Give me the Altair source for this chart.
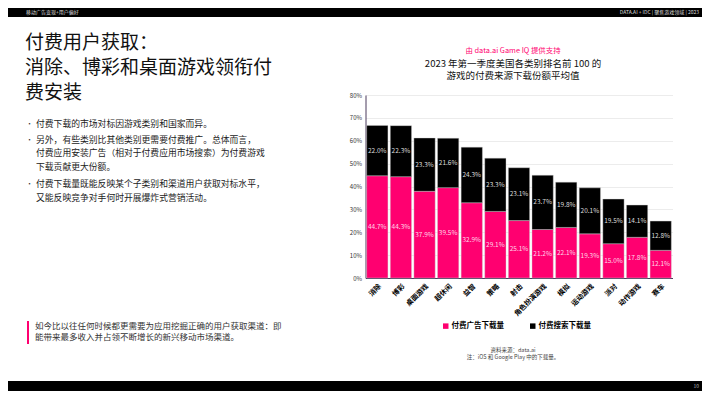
import altair as alt
import pandas as pd

categories = ["消除", "博彩", "桌面游戏", "超休闲", "益智", "策略", "射击",
              "角色扮演游戏", "模拟", "运动游戏", "派对", "动作游戏", "赛车"]
paid_ads = [44.7, 44.3, 37.9, 39.5, 32.9, 29.1, 25.1, 21.2, 22.1, 19.3, 15.0, 17.8, 12.1]
paid_search = [22.0, 22.3, 23.3, 21.6, 24.3, 23.3, 23.1, 23.7, 19.8, 20.1, 19.5, 14.1, 12.8]
series_names = ["付费广告下载量", "付费搜索下载量"]
y_ticks = [0, 10, 20, 30, 40, 50, 60, 70, 80]

PINK = "#FF0070"
BLACK = "#000000"
FONT = "Noto Sans CJK SC"

# view origin in page coordinates
OX, OY = 365.5, 95.0
def X(px):
    return px - OX
def Y(py):
    return py - OY

rows = []
for i, c in enumerate(categories):
    p, s = paid_ads[i], paid_search[i]
    rows.append({"cat": c, "series": series_names[0], "value": p, "ord": 0,
                 "mid": p / 2, "label": f"{p:.1f}%"})
    rows.append({"cat": c, "series": series_names[1], "value": s, "ord": 1,
                 "mid": p + s / 2, "label": f"{s:.1f}%"})
df = pd.DataFrame(rows)

x_axis = alt.Axis(labelAngle=-45, labelFont=FONT, labelFontSize=7,
                  labelFontWeight="bold", labelColor="#000000",
                  ticks=False, domainColor="#4b3b5c", domainWidth=1,
                  labelPadding=4, labelLimit=200)
x_scale = alt.Scale(paddingInner=0.1, paddingOuter=0.05)
y_axis = alt.Axis(values=y_ticks, labelExpr="datum.value + '%'",
                  labelOverlap=False,
                  labelFont=FONT, labelFontSize=6, labelColor="#333333",
                  ticks=False, domainColor="#4b3b5c", domainWidth=1,
                  gridColor="#ececec", gridWidth=1, labelPadding=4)
y_scale = alt.Scale(domain=[0, 80], nice=False)

bars = alt.Chart(df).mark_bar(stroke="#cfcfcf", strokeWidth=0.4).encode(
    x=alt.X("cat:N", sort=categories, title=None, scale=x_scale, axis=x_axis),
    y=alt.Y("value:Q", stack="zero", title=None, scale=y_scale, axis=y_axis),
    color=alt.Color("series:N", scale=alt.Scale(domain=series_names, range=[PINK, BLACK]),
                    legend=alt.Legend(title=None, orient="none", direction="horizontal",
                                      legendX=X(442), legendY=Y(322),
                                      symbolType="square", symbolSize=30,
                                      symbolStrokeWidth=0,
                                      labelFont=FONT, labelFontSize=7.5,
                                      labelFontWeight="bold", labelColor="#000000",
                                      columnPadding=25, labelOffset=2)),
    order=alt.Order("ord:Q"),
)

labels = alt.Chart(df).mark_text(font=FONT, fontSize=6.5).encode(
    x=alt.X("cat:N", sort=categories, title=None, scale=x_scale, axis=x_axis),
    y=alt.Y("mid:Q", title=None, scale=y_scale, axis=y_axis),
    text="label:N",
    color=alt.Color("series:N", scale=alt.Scale(domain=series_names,
                                                range=["#ffd6e8", "#dcdcdc"]),
                    legend=None),
)

# decorative / slide elements
def rect(x1, x2, y1, y2, color):
    return alt.Chart(pd.DataFrame({"k": [0]})).mark_rect(color=color).encode(
        x=alt.value(X(x1)), x2=alt.value(X(x2)), y=alt.value(Y(y1)), y2=alt.value(Y(y2)))

def txt(lines, px, py, size, color="#111111", align="left", weight="normal", lh=None):
    d = pd.DataFrame({"t": [lines]})
    kw = {}
    if lh is not None:
        kw["lineHeight"] = lh
    return alt.Chart(d).mark_text(font=FONT, fontSize=size, color=color, align=align,
                                  baseline="middle", fontWeight=weight, **kw).encode(
        x=alt.value(X(px)), y=alt.value(Y(py)), text="t:N")

top_bar = rect(0, 710, 0, 17, "#000000")
bottom_bar = rect(0, 710, 381, 399, "#000000")
quote_bar = rect(27, 29, 321, 344, PINK)

header_left = txt("移动广告变现+用户偏好", 26, 12, 5, color="#dddddd")
header_right = txt("DATA.AI + IDC  |  聚焦游戏领域  | 2023", 699, 12, 5, color="#dddddd", align="right")
page_no = txt("10", 699, 386, 5, color="#bbbbbb", align="right")

title_lines = ["付费用户获取：", "消除、博彩和桌面游戏领衔付", "费安装"]
title_layers = [txt(line, 25, 43 + 25 * k, 19) for k, line in enumerate(title_lines)]

bullet_texts = [
    (["付费下载的市场对标因游戏类别和国家而异。"], 124),
    (["另外，有些类别比其他类别更需要付费推广。总体而言，",
      "付费应用安装广告（相对于付费应用市场搜索）为付费游戏",
      "下载贡献更大份额。"], 139.5),
    (["付费下载量既能反映某个子类别和渠道用户获取对标水平，",
      "又能反映竞争对手何时开展爆炸式营销活动。"], 184),
]
bullet_layers = []
for lines, py in bullet_texts:
    bullet_layers.append(txt("•", 26, py, 7, color="#333333"))
    bullet_layers.append(alt.Chart(pd.DataFrame({"t": [lines]})).mark_text(
        font=FONT, fontSize=8.8, color="#222222", align="left", baseline="middle",
        lineHeight=13.5).encode(x=alt.value(X(36)), y=alt.value(Y(py)), text="t:N"))

quote = alt.Chart(pd.DataFrame({"t": [["如今比以往任何时候都更需要为应用挖掘正确的用户获取渠道：即",
                                        "能带来最多收入并占领不断增长的新兴移动市场渠道。"]]})).mark_text(
    font=FONT, fontSize=8.5, color="#333333", align="left", baseline="middle",
    lineHeight=11.5).encode(x=alt.value(X(35)), y=alt.value(Y(325.7)), text="t:N")

sub1 = txt("由 data.ai Game IQ 提供支持", 513, 51, 7.4, color=PINK, align="center")
chart_title = alt.Chart(pd.DataFrame({"t": [["2023 年第一季度美国各类别排名前 100 的",
                                              "游戏的付费来源下载份额平均值"]]})).mark_text(
    font=FONT, fontSize=9.5, color="#111111", align="center", baseline="middle",
    lineHeight=12.5).encode(x=alt.value(X(513)), y=alt.value(Y(63.5)), text="t:N")

source = alt.Chart(pd.DataFrame({"t": [["资料来源：data.ai", "注：iOS 和 Google Play 中的下载量。"]]})).mark_text(
    font=FONT, fontSize=5.5, color="#444444", align="center", baseline="middle",
    lineHeight=7.5).encode(x=alt.value(X(513)), y=alt.value(Y(349.5)), text="t:N")

chart = alt.layer(
    bars, labels, top_bar, bottom_bar, quote_bar, header_left, header_right, page_no,
    *title_layers, *bullet_layers, quote, sub1, chart_title, source
).resolve_scale(color="independent").properties(
    width=307, height=183,
    autosize=alt.AutoSizeParams(type="none"),
    padding={"left": OX - 8, "top": OY - 8, "right": 694 - (OX - 8) - 307,
             "bottom": 383 - (OY - 8) - 183},
    background="white",
).configure_view(stroke=None)

chart.save("out.html", embed_options={"renderer": "svg", "actions": False})
